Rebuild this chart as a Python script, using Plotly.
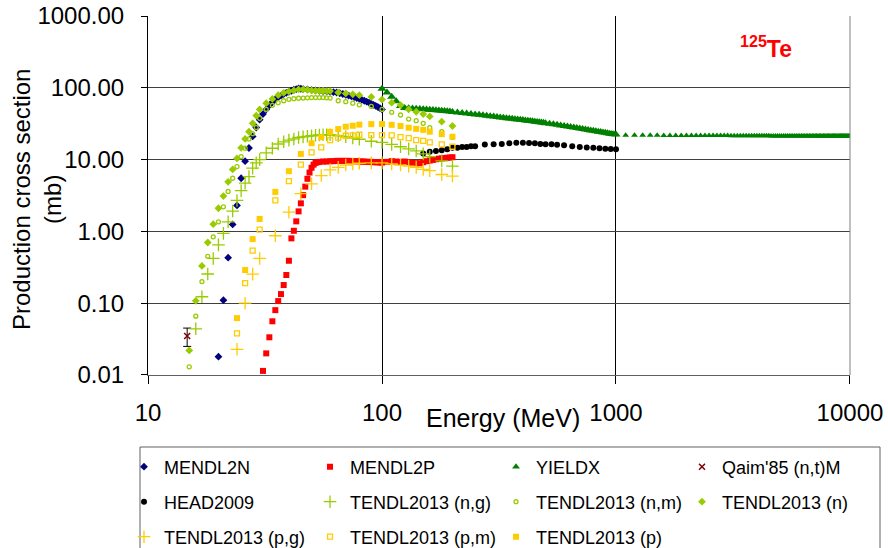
import plotly.graph_objects as go

FONT = "Liberation Sans, Arial, sans-serif"

# ---------------- data (energies in MeV, cross sections in mb) ----------------
mendl2n_e = [20, 21, 22, 23, 24, 25, 26, 27, 28, 29, 30, 31, 32, 33, 34, 35, 36, 37, 38, 39, 40,
             41, 42, 43, 44, 45, 46, 48, 50, 52, 54, 56, 58, 60, 62, 64, 66, 68, 70, 72, 74, 76,
             78, 80, 82, 84, 86, 88, 90, 92, 94, 96, 98, 100]
mendl2n_y = [0.018, 0.11, 0.43, 1.25, 2.3, 5.5, 9.5, 14.5, 21, 28, 36, 43, 50, 57, 63, 69, 74, 78,
             82, 85, 88, 91, 94, 96, 98, 97, 96, 95, 93, 92, 91, 90, 89, 88, 87, 86, 84, 82, 80,
             78, 76, 74, 72, 70, 68, 66, 64, 62, 60, 58, 56, 54, 52, 50]

mendl2p_e = [31, 32, 33, 34, 35, 36, 37, 38, 39, 40, 41, 42, 43, 44, 45, 46, 47, 48, 49, 50, 51,
             52, 53, 54, 56, 58, 60, 62, 64, 66, 68, 70, 72, 74, 76, 78, 80, 82, 84, 86, 88, 90,
             92, 94, 96, 98, 100, 105, 110, 115, 120, 125, 130, 135, 140, 145, 150, 155, 160,
             165, 170, 175, 180, 185, 190, 195, 200]
mendl2p_y = [0.0114, 0.020, 0.0335, 0.056, 0.080, 0.107, 0.134, 0.179, 0.247, 0.39, 0.80, 1.02,
             1.38, 1.9, 2.46, 3.2, 4.2, 5.4, 6.6, 7.7, 8.5, 9.0, 9.2, 9.3, 9.4, 9.4, 9.5, 9.5,
             9.6, 9.6, 9.6, 9.6, 9.6, 9.5, 9.5, 9.5, 9.4, 9.4, 9.4, 9.3, 9.3, 9.3, 9.2, 9.2, 9.2,
             9.1, 9.1, 9.3, 9.5, 9.4, 9.3, 9.4, 9.2, 9.0, 8.9, 8.9, 9.2, 9.5, 9.7, 9.9, 10.1,
             10.3, 10.4, 10.5, 10.6, 10.7, 10.8]

yieldx_e = ([100, 105, 110, 115, 120, 125, 130, 135, 140, 145, 150, 155, 160, 165, 170, 175,
             180, 185, 190, 195, 200]
            + list(range(210, 501, 10)) + list(range(520, 1001, 20))
            + list(range(1100, 10001, 100)))
yieldx_y = [97, 86, 75, 65, 56, 52.5, 52, 51.6, 51.2, 50.8, 50.4, 50, 49.6, 49.1, 48.7, 48.2,
            47.8, 47.4, 47, 46.6, 46.2,
            45.4, 44.7, 44.0, 43.3, 42.6, 42.0, 41.4, 40.8, 40.2, 39.7, 39.2, 38.7, 38.2, 37.8,
            37.4, 37.0, 36.6, 36.2, 35.8, 35.5, 35.1, 34.8, 34.4, 34.1, 33.8, 33.4, 33.1, 32.8,
            32.5, 32.2,
            31.6, 31.0, 30.5, 29.9, 29.4, 28.9, 28.4, 28.0, 27.5, 27.1, 26.7, 26.3, 25.9, 25.5,
            25.2, 24.8, 24.5, 24.2, 23.9, 23.6, 23.3, 23.0, 22.8, 22.5, 22.3,
            21.9, 21.8, 21.8, 21.8, 21.8, 21.7, 21.7, 21.7, 21.7, 21.7,
            21.6, 21.6, 21.6, 21.6, 21.6, 21.6, 21.6, 21.6, 21.6, 21.6,
            21.5, 21.5, 21.5, 21.5, 21.5, 21.5, 21.5, 21.5, 21.5, 21.5,
            21.5, 21.5, 21.5, 21.5, 21.5, 21.4, 21.4, 21.4, 21.4, 21.4,
            21.4, 21.4, 21.4, 21.4, 21.4, 21.4, 21.4, 21.4, 21.4, 21.4,
            21.4, 21.4, 21.4, 21.4, 21.4, 21.3, 21.3, 21.3, 21.3, 21.3,
            21.3, 21.3, 21.3, 21.3, 21.3, 21.3, 21.3, 21.3, 21.3, 21.3,
            21.3, 21.3, 21.3, 21.3, 21.3, 21.3, 21.3, 21.3, 21.3, 21.3,
            21.3, 21.3, 21.3, 21.3, 21.3, 21.3, 21.3, 21.3, 21.3, 21.3]

qaim_e = [14.7]
qaim_y = [0.035]
qaim_err = [0.010]

head_e = [150, 160, 170, 180, 190, 200, 210, 220, 230, 240, 250, 275, 300, 325, 350, 375, 400,
          425, 450, 475, 500, 530, 560, 600, 650, 700, 750, 800, 850, 900, 950, 1000]
head_y = [12.2, 12.9, 13.2, 13.5, 13.9, 14.6, 14.6, 15.0, 15.0, 15.4, 15.4, 16.2, 16.3, 16.5,
          16.9, 17.1, 17.2, 17.0, 16.9, 16.5, 16.3, 16.3, 16.1, 15.9, 15.4, 15.0, 14.7, 14.6,
          14.4, 14.2, 14.1, 13.9]

tendl_n_e = [15, 16, 17, 18, 19, 20, 21, 22, 23, 24, 25, 26, 27, 28, 29, 30, 32, 34, 36, 38, 40,
             42, 44, 46, 48, 50, 52, 54, 56, 58, 60, 65, 70, 75, 80, 90, 100, 110, 120, 130,
             140, 150, 160, 180, 200]
tendl_n_y = [0.022, 0.108, 0.33, 0.70, 1.26, 2.1, 3.1, 4.9, 7.3, 10.4, 14.6, 19.4, 24.5, 32, 41,
             50, 61, 70, 79, 85, 89, 92, 95, 95, 94, 92, 91, 91, 91, 90, 90, 86, 83.6, 81, 79,
             74.6, 68.5, 62, 57.5, 50, 46.4, 43, 40, 33.7, 29.4]
tendl_nm_y = [0.013, 0.066, 0.20, 0.45, 0.84, 1.36, 2.2, 3.6, 5.5, 8.0, 11, 14.4, 19.4, 23, 28,
              37.6, 50, 57, 62, 66, 69, 70.5, 71.5, 72, 72.5, 73, 73, 73, 73, 72.5, 72, 66, 64,
              61, 58, 55, 50, 45.6, 41.8, 36.7, 34.8, 32, 27.8, 24.5, 20.5]
tendl_ng_e = tendl_n_e[1:]
tendl_ng_y = [0.044, 0.123, 0.255, 0.42, 0.65, 0.94, 1.36, 1.92, 2.7, 3.7, 4.7, 5.8, 7.6, 9.0,
              10.0, 12.4, 14.4, 16.5, 17.7, 18.7, 19.4, 20.3, 20.7, 21.1, 21.5, 21.8, 22.0,
              22.2, 22.2, 22.2, 21.5, 20.8, 20.0, 19.2, 18.0, 17.4, 16.3, 15.1, 14.1, 13.2,
              12.0, 11.0, 9.6, 8.1]

tendl_p_e = [24, 26, 28, 30, 35, 40, 45, 50, 55, 60, 65, 70, 75, 80, 90, 100, 110, 120, 130,
             140, 150, 160, 180, 200]
tendl_p_y = [0.062, 0.29, 0.78, 1.49, 3.55, 6.9, 12, 16.9, 20.5, 24.3, 26.6, 28.7, 29.6, 30.7,
             31.2, 31.3, 30.5, 29.4, 27.8, 26.8, 26.0, 24.5, 22.6, 20.8]
tendl_pm_y = [0.038, 0.19, 0.54, 1.06, 2.7, 5.0, 8.5, 12.6, 14.8, 18.7, 20.2, 21.5, 21.7, 22.2,
              21.9, 21.9, 21.7, 20.5, 19.9, 18.7, 18.2, 17.4, 16.3, 15.1]
tendl_pg_y = [0.0228, 0.10, 0.254, 0.42, 0.87, 1.85, 3.35, 4.6, 6.0, 7.2, 7.8, 8.4, 8.7, 8.9,
              9.0, 9.0, 8.7, 8.4, 8.1, 7.8, 7.3, 7.0, 6.2, 5.9]

y_tickvals = [0.01, 0.1, 1, 10, 100, 1000]
y_ticktext = ["0.01", "0.10", "1.00", "10.00", "100.00", "1000.00"]
x_tickvals = [10, 100, 1000, 10000]
x_ticktext = ["10", "100", "1000", "10000"]

NAVY, RED, GREEN, DRED = "#000080", "#FF0000", "#008000", "#800000"
LGREEN, YEL = "#99CC00", "#FFCC00"

fig = go.Figure()


def add(name, x, y, legend, symbol, size, color, open_=False, lw=1.5, **kw):
    marker = dict(symbol=symbol, size=size, color=color, opacity=1)
    if open_:
        marker["line"] = dict(color=color, width=lw)
    else:
        marker["line"] = dict(width=0)
    fig.add_trace(go.Scatter(x=x, y=y, mode="markers", name=name, marker=marker,
                             legend=legend, **kw))


# YIELDX: dense band below 1 GeV, smaller separate triangles above
yieldx_size = [8 if e <= 1000 else 6 for e in yieldx_e]

add("MENDL2N", mendl2n_e, mendl2n_y, "legend", "diamond", 6, NAVY)
add("MENDL2P", mendl2p_e, mendl2p_y, "legend", "square", 6, RED)
add("YIELDX", yieldx_e, yieldx_y, "legend", "triangle-up", yieldx_size, GREEN)
add("Qaim'85 (n,t)M", qaim_e, qaim_y, "legend", "x-thin-open", 6, DRED, open_=True,
    error_y=dict(type="data", array=qaim_err, color="black", thickness=1, width=4))
add("HEAD2009", head_e, head_y, "legend2", "circle", 6, "black")
add("TENDL2013 (n,g)", tendl_ng_e, tendl_ng_y, "legend2", "cross-thin-open", 9, LGREEN,
    open_=True, lw=1.3)
add("TENDL2013 (n,m)", tendl_n_e, tendl_nm_y, "legend2", "circle-open", 4, LGREEN, open_=True,
    lw=1.3)
add("TENDL2013 (n)", tendl_n_e, tendl_n_y, "legend2", "diamond", 6, LGREEN)
add("TENDL2013 (p,g)", tendl_p_e, tendl_pg_y, "legend3", "cross-thin-open", 9, YEL, open_=True,
    lw=1.3)
add("TENDL2013 (p,m)", tendl_p_e, tendl_pm_y, "legend3", "square-open", 5, YEL, open_=True,
    lw=1.3)
add("TENDL2013 (p)", tendl_p_e, tendl_p_y, "legend3", "square", 6, YEL)

W, H = 888, 548
PL, PR, PT, PB = 148, 850, 16, 375          # plot-area edges in window pixels
L, R, T, B = PL, W - PR, PT, H - PB
pw, ph = PR - PL, PB - PT


def px(xp):
    return (xp - PL) / pw


def py(yp):
    return (PB - yp) / ph


leg_common = dict(orientation="h", xanchor="left", yanchor="middle", bgcolor="rgba(0,0,0,0)",
                  borderwidth=0, font=dict(family=FONT, size=18, color="black"),
                  entrywidth=141, entrywidthmode="pixels", itemsizing="trace")

fig.update_layout(
    width=W, height=H,
    margin=dict(l=L, r=R, t=T, b=B, autoexpand=False),
    paper_bgcolor="white", plot_bgcolor="white",
    font=dict(family=FONT, color="black"),
    legend=dict(x=px(124), y=py(467), **leg_common),
    legend2=dict(x=px(124), y=py(502), **leg_common),
    legend3=dict(x=px(124), y=py(537), **leg_common),
    xaxis=dict(type="log", range=[0.9999, 4.0001], tickvals=x_tickvals, ticktext=x_ticktext,
               showgrid=True, gridcolor="black", gridwidth=1,
               showline=True, linecolor="#606060", linewidth=1,
               ticks="outside", ticklen=8, tickcolor="black",
               tickfont=dict(size=24, family=FONT), ticklabelstandoff=8, zeroline=False),
    yaxis=dict(type="log", range=[-2.0001, 3.0001], tickvals=y_tickvals, ticktext=y_ticktext,
               showgrid=True, gridcolor="#404040", gridwidth=1,
               showline=True, linecolor="black", linewidth=1,
               ticks="outside", ticklen=6, tickcolor="black",
               tickfont=dict(size=24, family=FONT), ticklabelstandoff=12, zeroline=False),
    shapes=[dict(type="rect", xref="paper", yref="paper", x0=px(140), x1=px(880),
                 y0=py(447), y1=py(560), line=dict(color="#606060", width=1),
                 fillcolor="rgba(0,0,0,0)", layer="below"),
            dict(type="line", xref="paper", yref="paper", x0=1, x1=1, y0=0, y1=1,
                 line=dict(color="#808080", width=1))],
    annotations=[
        dict(text="Energy (MeV)", xref="paper", yref="paper", x=px(503), y=py(418),
             xanchor="center", yanchor="middle", showarrow=False,
             font=dict(size=25, family=FONT)),
        dict(text="Production cross section<br>(mb)", xref="paper", yref="paper",
             x=px(37), y=py(200), xanchor="center", yanchor="middle", textangle=-90,
             showarrow=False, font=dict(size=24, family=FONT)),
        dict(text="<b><sup>125</sup>Te</b>", xref="paper", yref="paper", x=px(766), y=py(47),
             xanchor="center", yanchor="middle", showarrow=False,
             font=dict(size=23, family=FONT, color="#FF0000")),
    ],
)

fig.write_html("out.html",
               config={"displayModeBar": False},
               post_script="document.body.style.margin='0px';"
                           "document.body.style.overflow='hidden';")
